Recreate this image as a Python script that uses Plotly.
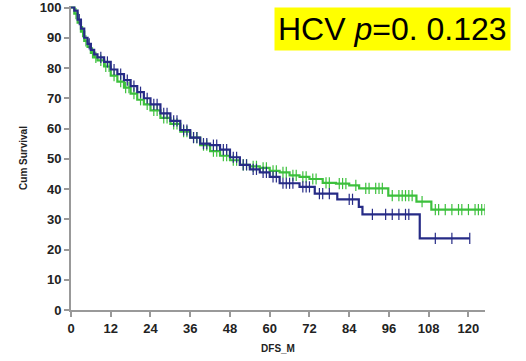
import plotly.graph_objects as go
import numpy as np

# Navy group: step-function survival (months, cum survival %)
navy_t = [0, 1, 2, 3, 4, 5, 6, 7, 8, 10, 12, 14, 16, 18, 20, 22, 24, 27, 30, 33, 36, 39, 42, 45, 48, 51, 54, 57, 60, 63, 69, 73.6, 80.4, 86.9, 88, 105.3, 120.4]
navy_s = [100, 99, 96, 93, 90, 88, 86, 84.5, 83.5, 82, 79.5, 78, 76, 74, 72, 70, 68, 65, 62.5, 59.5, 57, 55, 54.5, 53, 50.5, 48, 46.5, 45.5, 44, 41.9, 40.7, 38.5, 36.6, 34.1, 31.6, 23.7, 23.7]
navy_cens = [2.5, 5.5, 9, 11, 13, 15, 17, 19, 21, 23, 25, 26, 28, 29, 31, 32, 34, 35, 37, 38, 40, 41, 43, 44, 46, 47, 49, 50, 52, 53, 55, 56, 58, 59, 61, 62, 64, 65, 66, 67, 70, 71, 72, 75, 76, 78, 84, 85, 91, 95, 97, 99, 101, 102, 110, 115, 120.4]

# Green group
green_t = [0, 1, 2, 3, 4, 5, 6, 7, 8, 10, 12, 14, 16, 18, 20, 22, 24, 27, 30, 33, 36, 39, 42, 45, 48, 51, 54, 57, 60, 63, 66, 69, 72, 76, 80, 84, 87, 95.8, 104.3, 108.8, 125]
green_s = [100, 98, 95, 92, 89, 87, 85, 83.5, 82.5, 80.5, 77.5, 75.5, 73.5, 71.5, 69.5, 68, 66, 63.5, 61.5, 59, 57, 54.5, 52.5, 51, 49.5, 48, 47.5, 47, 46, 45.5, 44.5, 44, 43.3, 42, 41.8, 41.2, 40.2, 37.8, 35.8, 33.2, 33.2]
green_cens = [1.5, 3.5, 4.5, 6.5, 7.5, 9, 10.5, 11.5, 13, 15, 16.5, 17.5, 19, 21, 23, 25, 26, 28, 29, 31, 32, 34, 35, 37, 38, 40, 41, 43, 44, 46, 47, 49, 50, 52, 53, 55, 56, 58, 59, 61, 62, 64, 65, 67, 68, 70, 71, 73, 74, 77, 78, 81, 82, 83, 86, 89, 90, 92, 93, 94, 97, 99, 100, 101, 102, 103, 106, 110, 111, 113, 115, 117, 118, 120, 122, 123, 124, 125]

x_ticks = [0, 12, 24, 36, 48, 60, 72, 84, 96, 108, 120]
y_ticks = [0, 10, 20, 30, 40, 50, 60, 70, 80, 90, 100]

NAVY = "#262b86"
GREEN = "#3cc03c"


def step_value(times, surv, t):
    idx = np.searchsorted(np.array(times), t, side="right") - 1
    return surv[max(idx, 0)]


fig = go.Figure()
for t, s, cens, col in [(green_t, green_s, green_cens, GREEN), (navy_t, navy_s, navy_cens, NAVY)]:
    fig.add_trace(go.Scatter(x=t, y=s, mode="lines", line=dict(color=col, width=2.2, shape="hv"),
                             showlegend=False, hoverinfo="skip"))
    fig.add_trace(go.Scatter(x=cens, y=[step_value(t, s, c) for c in cens], mode="markers",
                             marker=dict(symbol="line-ns", size=8, line=dict(color=col, width=1.2)),
                             showlegend=False, hoverinfo="skip"))

axis_font = dict(family="Liberation Sans, Arial, sans-serif", size=13, color="#222222")
fig.update_layout(
    width=526, height=361,
    margin=dict(l=71, r=41, t=6, b=51),
    paper_bgcolor="white", plot_bgcolor="white",
    xaxis=dict(range=[0, 125], tickvals=x_ticks, ticktext=[f"<b>{v}</b>" for v in x_ticks],
               showgrid=False, zeroline=False, showline=True, linecolor="#999999", linewidth=2,
               ticks="outside", ticklen=5, tickcolor="#999999", tickwidth=1.5, tickfont=axis_font,
               automargin=False,
               title=dict(text="<b>DFS_M</b>", font=dict(family="Liberation Sans, Arial", size=10, color="#222"), standoff=10)),
    yaxis=dict(range=[0, 100.5], tickvals=y_ticks, ticktext=[f"<b>{v}</b>" for v in y_ticks],
               showgrid=False, zeroline=False, showline=True, linecolor="#999999", linewidth=2,
               ticks="outside", ticklen=5, tickcolor="#999999", tickwidth=1.5, tickfont=axis_font,
               automargin=False,
               title=dict(text="<b>Cum Survival</b>", font=dict(family="Liberation Sans, Arial", size=10, color="#222"), standoff=10)),
)

fig.add_annotation(
    xref="paper", yref="paper", x=1.063, y=0.997, xanchor="right", yanchor="top",
    text="HCV <i>p</i>=0. 0.123", showarrow=False,
    font=dict(family="Liberation Sans, Arial, sans-serif", size=32, color="black"),
    bgcolor="#ffff00", borderpad=3,
)

fig.write_html("out.html", config={"displayModeBar": False},
               post_script="document.body.style.margin='0px';")
